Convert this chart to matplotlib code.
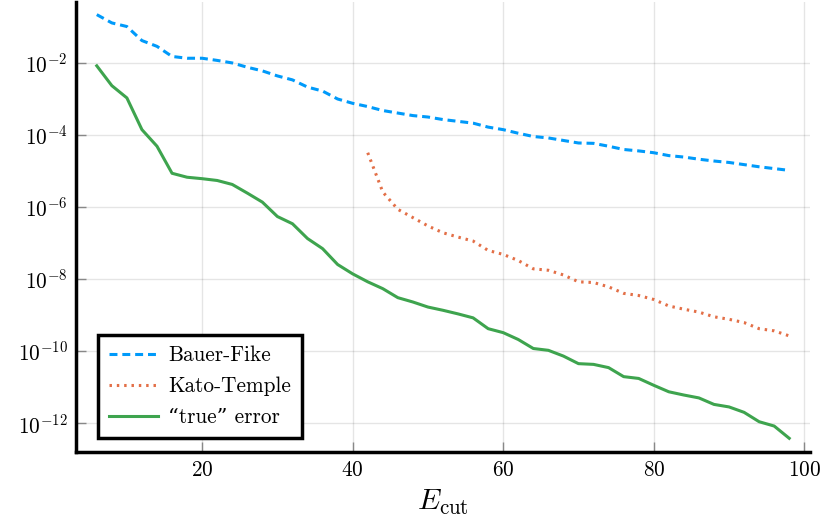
import numpy as np
import matplotlib
matplotlib.use("Agg")
import matplotlib.pyplot as plt
from matplotlib.ticker import FixedLocator, NullLocator, LogFormatterSciNotation

# Ecut values (every 2 from 6 to 98)
ecut = list(range(6, 100, 2))
ecut_kt = list(range(42, 100, 2))

# exponents (log10 of the error)
bauer_fike_exp = [-0.67, -0.90, -1.00, -1.39, -1.55, -1.83, -1.88, -1.88, -1.94, -2.01,
                  -2.13, -2.23, -2.37, -2.48, -2.68, -2.79, -3.01, -3.13, -3.22, -3.33,
                  -3.40, -3.47, -3.51, -3.58, -3.63, -3.68, -3.79, -3.86, -3.96, -4.05,
                  -4.09, -4.16, -4.23, -4.24, -4.32, -4.41, -4.45, -4.50, -4.58, -4.62,
                  -4.68, -4.73, -4.77, -4.83, -4.89, -4.94, -4.99]
kato_temple_exp = [-4.50, -5.59, -6.07, -6.30, -6.53, -6.72, -6.84, -6.95, -7.21, -7.32,
                   -7.49, -7.72, -7.76, -7.89, -8.08, -8.10, -8.22, -8.40, -8.46, -8.57,
                   -8.75, -8.84, -8.92, -9.05, -9.12, -9.21, -9.38, -9.44, -9.58]
true_error_exp = [-2.09, -2.64, -2.98, -3.86, -4.32, -5.07, -5.18, -5.22, -5.27, -5.38,
                  -5.62, -5.87, -6.27, -6.47, -6.88, -7.16, -7.60, -7.86, -8.08, -8.27,
                  -8.52, -8.64, -8.78, -8.87, -8.97, -9.08, -9.38, -9.49, -9.68, -9.93,
                  -9.98, -10.14, -10.35, -10.37, -10.46, -10.71, -10.76, -10.95, -11.13, -11.22,
                  -11.30, -11.48, -11.55, -11.70, -11.96, -12.08, -12.42]

bauer_fike = 10.0 ** np.array(bauer_fike_exp)
kato_temple = 10.0 ** np.array(kato_temple_exp)
true_error = 10.0 ** np.array(true_error_exp)

labels = ["Bauer-Fike", "Kato-Temple", "\u201ctrue\u201d error"]
xticks = [20, 40, 60, 80, 100]
yticks = [1e-12, 1e-10, 1e-8, 1e-6, 1e-4, 1e-2]

plt.rcParams["font.family"] = ["cmr10", "DejaVu Serif"]
plt.rcParams["mathtext.fontset"] = "cm"
plt.rcParams["axes.formatter.use_mathtext"] = True

fig = plt.figure(figsize=(8.29, 5.25), dpi=100)
ax = fig.add_axes([76 / 829, 73 / 525, 734 / 829, 450 / 525])

lw = 2.2
ax.plot(ecut, bauer_fike, color="#009AFA", lw=lw, linestyle=(0, (2.6, 1.6)), label=labels[0])
ax.plot(ecut_kt, kato_temple, color="#E36F47", lw=lw, linestyle=(0, (0.8, 1.6)), label=labels[1])
ax.plot(ecut, true_error, color="#3EA44E", lw=lw, linestyle="-", label=labels[2])

ax.set_yscale("log")
ax.set_xlim(3.24, 100.76)
ax.set_ylim(10 ** -12.8, 10 ** -0.32)
ax.xaxis.set_major_locator(FixedLocator(xticks))
ax.yaxis.set_major_locator(FixedLocator(yticks))
ax.yaxis.set_major_formatter(LogFormatterSciNotation())
ax.yaxis.set_minor_locator(NullLocator())

ax.grid(True, color="black", alpha=0.1, lw=1)
for s in ["top", "right"]:
    ax.spines[s].set_visible(False)
for s in ["left", "bottom"]:
    ax.spines[s].set_linewidth(2.5)
ax.tick_params(direction="in", length=7, width=1, color="#888888", labelsize=15.3, pad=6)

ax.set_xlabel(r"$E_{\mathrm{cut}}$", fontsize=21.5, labelpad=6)

leg = ax.legend(loc="lower left", bbox_to_anchor=(0.03, 0.031), borderaxespad=0,
                fontsize=15.3, handlelength=2.3, labelspacing=0.55, fancybox=False,
                framealpha=1, edgecolor="black", borderpad=0.5, handletextpad=0.5)
leg.get_frame().set_linewidth(2.5)

fig.savefig("out.png", dpi=100)
